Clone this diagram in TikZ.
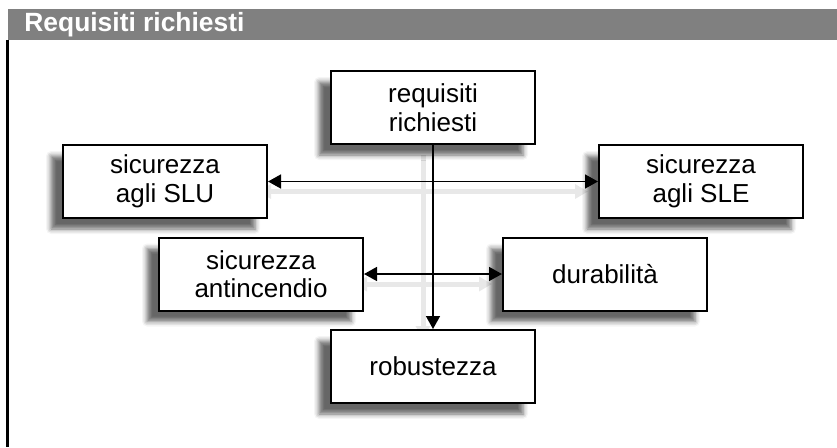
\documentclass[tikz,border=0pt]{standalone}
\usepackage{fontspec}
\setmainfont{Liberation Sans}
\usetikzlibrary{positioning, arrows.meta, calc, shadows.blur, backgrounds}

\definecolor{headgray}{RGB}{128,128,128}

\begin{document}
\begin{tikzpicture}[x=0.5pt, y=-0.5pt,
	box/.style={rectangle, draw=black, line width=1pt, fill=white,
		minimum width=102pt, minimum height=36.5pt, align=center,
		font=\fontsize{13}{14.3}\selectfont,
		blur shadow={shadow xshift=-6pt, shadow yshift=-5.5pt,
			shadow blur radius=2.5pt, shadow opacity=60}},
	link/.style={line width=0.8pt},
	linkshade/.style={draw=black!9, line width=2.5pt,
		transform canvas={shift={(-5pt,-5pt)}}},
	tip/.tip={Triangle[length=6.5pt, width=7pt]}]
	
	\useasboundingbox (0,0) rectangle (837,447);
	
	% Header
	\fill[headgray] (8,9) rectangle (837,40);
	\node[anchor=west, inner sep=0pt, text=white,
	font=\fontsize{13.2}{15}\selectfont\bfseries] (title) at (24,25) {Requisiti richiesti};
	\draw[line width=1.2pt] (7.5,40) -- (7.5,447);
	
	% Boxes
	\node[box] (req) at (433,107.5) {requisiti\\richiesti};
	
	\node[box] (slu) at ($(req) + (-268,74)$) {sicurezza\\agli SLU};
	\node[box] (sle) at ($(req) + (268,74)$) {sicurezza\\agli SLE};
	
	\node[box] (antin) at ($(req) + (-172,166.5)$) {sicurezza\\antincendio};
	\node[box] (dur) at ($(req) + (172,166.5)$) {durabilità};
	
	\node[box] (rob) at ($(req) + (0,259)$) {robustezza};
	
	% Connections (shade first, then lines)
	\begin{scope}[on background layer]
		\foreach \from/\to/\ends in {slu/sle/tip-tip, antin/dur/tip-tip, req/rob/-tip}
		\draw[linkshade, \ends] (\from) -- (\to);
	\end{scope}
	\foreach \from/\to/\ends in {slu/sle/tip-tip, antin/dur/tip-tip, req/rob/-tip}
	\draw[link, \ends] (\from) -- (\to);
	
\end{tikzpicture}
\end{document}
